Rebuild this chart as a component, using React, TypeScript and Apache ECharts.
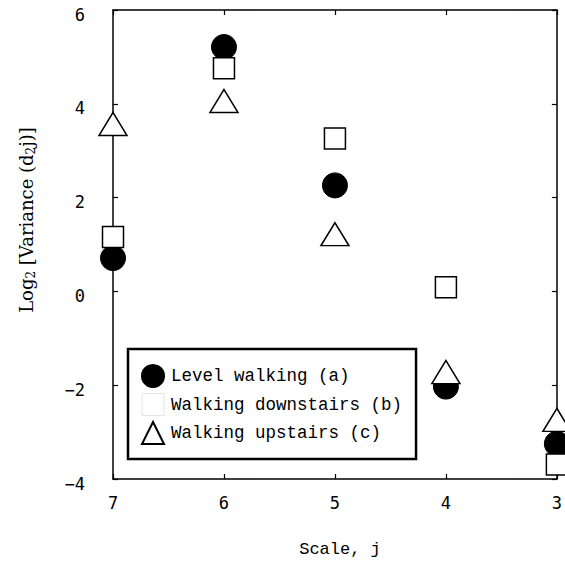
import React, { useEffect, useRef } from "react";
import * as echarts from "echarts";

const scales = [7, 6, 5, 4, 3];
const levelWalking = [0.71, 5.21, 2.26, -2.03, -3.25];
const walkingDownstairs = [1.16, 4.76, 3.26, 0.09, -3.69];
const walkingUpstairs = [3.57, 4.06, 1.22, -1.72, -2.74];
const seriesNames = ["Level walking (a)", "Walking downstairs (b)", "Walking upstairs (c)"];

const MONO = "'Liberation Mono', 'DejaVu Sans Mono', monospace";
const TICKFONT = "'DejaVu Sans Mono', monospace";
const SERIF = "'DejaVu Serif', 'Liberation Serif', serif";

export default function App() {
  const ref = useRef<HTMLDivElement>(null);
  useEffect(() => {
    if (!ref.current) return;
    const chart = echarts.init(ref.current, undefined, { renderer: "svg" });
    const pts = (ys: number[]) => scales.map((x, i) => [x, ys[i]]);
    const axisLine = { show: true, onZero: false, lineStyle: { color: "#000", width: 1.5 } };
    const tick = { show: true, inside: true, length: 5, lineStyle: { color: "#000", width: 1.2 } };
    const minus = (v: number) => String(v).replace("-", "\u2212");
    chart.setOption({
      animation: false,
      backgroundColor: "#fff",
      grid: { left: 113, top: 10, right: 7, bottom: 84, containLabel: false },
      xAxis: [
        {
          type: "value", min: 3, max: 7, interval: 1, inverse: true, position: "bottom",
          axisLine, axisTick: tick, splitLine: { show: false },
          axisLabel: { margin: 15, color: "#000", fontSize: 17, fontFamily: TICKFONT },
        },
        {
          type: "value", min: 3, max: 7, interval: 1, inverse: true, position: "top",
          axisLine, axisTick: tick, splitLine: { show: false }, axisLabel: { show: false },
        },
      ],
      yAxis: [
        {
          type: "value", min: -4, max: 6, interval: 2, position: "left",
          axisLine, axisTick: tick, splitLine: { show: false },
          axisLabel: {
            margin: 28, color: "#000", fontSize: 17, fontFamily: TICKFONT, formatter: minus,
            verticalAlign: "top", lineHeight: 9,
          },
        },
        {
          type: "value", min: -4, max: 6, interval: 2, position: "right",
          axisLine, axisTick: tick, splitLine: { show: false }, axisLabel: { show: false },
        },
      ],
      legend: {
        orient: "vertical",
        left: 128,
        top: 349,
        padding: [15, 14, 14, 13],
        borderColor: "#000",
        borderWidth: 2.5,
        backgroundColor: "#fff",
        itemWidth: 22,
        itemHeight: 22,
        itemGap: 5,
        textStyle: { color: "#000", fontSize: 17.5, fontFamily: MONO, padding: [0, 0, 0, 2] },
        data: [
          { name: seriesNames[0], icon: "circle" },
          { name: seriesNames[1], icon: "rect", itemStyle: { color: "#fff", borderColor: "#e4e4e4", borderWidth: 1 } },
          { name: seriesNames[2], icon: "triangle" },
        ],
      },
      series: [
        {
          name: seriesNames[0], type: "scatter", data: pts(levelWalking), symbol: "circle", symbolSize: 25,
          itemStyle: { color: "#000", borderColor: "#000", borderWidth: 1, opacity: 1 },
          clip: false, z: 2,
        },
        {
          name: seriesNames[1], type: "scatter", data: pts(walkingDownstairs), symbol: "rect", symbolSize: 21,
          itemStyle: { color: "#fff", borderColor: "#000", borderWidth: 1.5, opacity: 1 },
          clip: false, z: 3,
        },
        {
          name: seriesNames[2], type: "scatter", data: pts(walkingUpstairs), symbol: "triangle", symbolSize: [28, 23],
          itemStyle: { color: "#fff", borderColor: "#000", borderWidth: 1.5, opacity: 1 },
          clip: false, z: 4,
        },
      ],
      graphic: [
        {
          type: "text", x: 340, y: 549,
          style: { text: "Scale, j", fill: "#000", font: `17px ${MONO}`, align: "center", verticalAlign: "middle" },
        },
        {
          type: "text", x: 26, y: 220, rotation: Math.PI / 2,
          style: {
            text: "Log{s|2} [Variance (d{s|2}j)]",
            fill: "#000", font: `18px ${SERIF}`, align: "center", verticalAlign: "middle",
            rich: { s: { fontSize: 12, fontFamily: SERIF, fill: "#000", padding: [10, 0, 0, 0] } },
          },
        },
      ],
    });
    return () => chart.dispose();
  }, []);
  return (
    <div
      ref={ref}
      style={{ position: "absolute", left: 0, top: 0, width: 565, height: 563 }}
    />
  );
}
